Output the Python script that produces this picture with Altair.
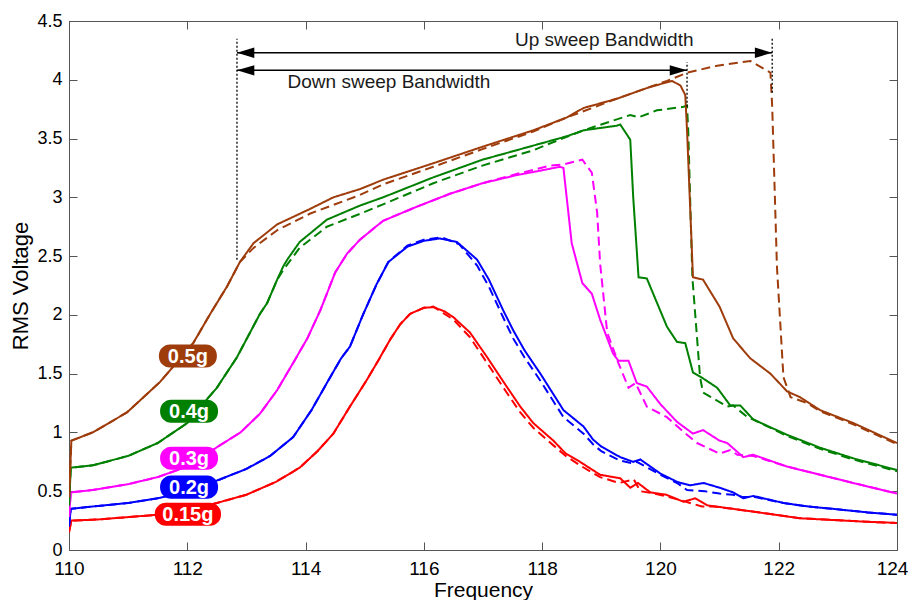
import altair as alt
import pandas as pd

# ---------------- data ----------------
series_names = ["0.15g", "0.2g", "0.3g", "0.4g", "0.5g"]
series_colors = ["#FF0000", "#0000FF", "#FF00FF", "#008000", "#9E3C0C"]

red_up_x = [110.0, 110.04, 110.5, 111.0, 111.5, 112.0, 112.5, 113.0, 113.5, 113.9, 114.2, 114.47, 114.75, 115.04, 115.25, 115.43, 115.6, 115.77, 116.0, 116.16, 116.35, 116.5, 116.78, 117.07, 117.4, 117.63, 117.85, 118.19, 118.4, 118.64, 118.98, 119.32, 119.49, 119.62, 119.83, 120.1, 120.39, 120.59, 120.79, 121.23, 121.8, 122.36, 122.92, 123.5, 124.0]
red_up_y = [0.15, 0.25, 0.26, 0.28, 0.30, 0.34, 0.40, 0.47, 0.58, 0.70, 0.84, 0.99, 1.22, 1.45, 1.63, 1.79, 1.92, 2.01, 2.06, 2.066, 2.03, 1.98, 1.85, 1.64, 1.39, 1.22, 1.08, 0.93, 0.82, 0.75, 0.64, 0.61, 0.53, 0.57, 0.49, 0.47, 0.41, 0.44, 0.38, 0.35, 0.31, 0.27, 0.255, 0.24, 0.23]
red_dn_x = [110.0, 110.04, 110.5, 111.0, 111.5, 112.0, 112.5, 113.0, 113.5, 113.9, 114.2, 114.47, 114.75, 115.04, 115.25, 115.43, 115.6, 115.77, 116.0, 116.16, 116.5, 116.78, 117.07, 117.4, 117.63, 117.85, 118.19, 118.4, 118.64, 118.98, 119.3, 119.55, 119.66, 119.9, 120.3, 120.7, 120.9, 121.23, 121.8, 122.36, 122.92, 123.5, 124.0]
red_dn_y = [0.15, 0.25, 0.26, 0.28, 0.30, 0.34, 0.40, 0.47, 0.58, 0.70, 0.84, 0.99, 1.22, 1.45, 1.63, 1.79, 1.92, 2.01, 2.06, 2.07, 1.96, 1.81, 1.59, 1.34, 1.17, 1.04, 0.89, 0.80, 0.72, 0.62, 0.57, 0.60, 0.50, 0.48, 0.43, 0.37, 0.37, 0.35, 0.31, 0.27, 0.255, 0.24, 0.23]

blue_up_x = [110.0, 110.03, 110.4, 111.0, 111.5, 112.0, 112.55, 113.0, 113.4, 113.79, 114.1, 114.36, 114.6, 114.75, 114.97, 115.2, 115.4, 115.72, 116.0, 116.27, 116.56, 116.9, 117.1, 117.34, 117.51, 117.7, 117.97, 118.36, 118.7, 118.86, 119.0, 119.32, 119.54, 119.66, 120.0, 120.28, 120.5, 120.73, 121.0, 121.23, 121.4, 121.57, 122.08, 122.5, 122.92, 123.5, 124.0]
blue_up_y = [0.20, 0.35, 0.37, 0.40, 0.44, 0.50, 0.60, 0.69, 0.80, 0.96, 1.19, 1.42, 1.63, 1.73, 2.00, 2.26, 2.45, 2.58, 2.63, 2.65, 2.62, 2.47, 2.30, 2.04, 1.87, 1.70, 1.50, 1.19, 1.05, 0.94, 0.88, 0.79, 0.75, 0.77, 0.65, 0.58, 0.55, 0.57, 0.53, 0.49, 0.44, 0.46, 0.40, 0.37, 0.35, 0.32, 0.30]
blue_dn_x = [110.0, 110.03, 110.4, 111.0, 111.5, 112.0, 112.55, 113.0, 113.4, 113.79, 114.1, 114.36, 114.6, 114.75, 114.97, 115.2, 115.4, 115.72, 116.0, 116.3, 116.6, 116.9, 117.1, 117.34, 117.51, 117.7, 117.97, 118.36, 118.7, 118.86, 119.0, 119.32, 119.5, 119.6, 120.0, 120.28, 120.45, 120.75, 121.0, 121.23, 121.4, 121.6, 122.08, 122.5, 122.92, 123.5, 124.0]
blue_dn_y = [0.20, 0.35, 0.37, 0.40, 0.44, 0.50, 0.60, 0.69, 0.80, 0.96, 1.19, 1.42, 1.63, 1.73, 2.00, 2.26, 2.45, 2.59, 2.64, 2.66, 2.60, 2.42, 2.24, 1.98, 1.80, 1.64, 1.44, 1.13, 0.99, 0.90, 0.84, 0.76, 0.74, 0.75, 0.64, 0.57, 0.51, 0.50, 0.48, 0.47, 0.45, 0.45, 0.40, 0.37, 0.35, 0.32, 0.30]

mag_up_x = [110.0, 110.03, 110.4, 111.0, 111.5, 112.0, 112.55, 112.9, 113.23, 113.52, 113.8, 114.03, 114.25, 114.36, 114.5, 114.7, 114.92, 115.31, 115.88, 116.44, 116.99, 117.58, 118.0, 118.3, 118.36, 118.5, 118.68, 118.84, 118.98, 119.2, 119.29, 119.46, 119.6, 119.77, 120.0, 120.28, 120.55, 120.72, 121.0, 121.13, 121.4, 121.57, 122.14, 122.7, 123.26, 124.0]
mag_up_y = [0.28, 0.49, 0.51, 0.56, 0.62, 0.71, 0.89, 1.00, 1.16, 1.36, 1.60, 1.80, 2.04, 2.18, 2.36, 2.52, 2.64, 2.80, 2.92, 3.03, 3.12, 3.19, 3.23, 3.26, 3.25, 2.61, 2.27, 2.18, 1.96, 1.67, 1.61, 1.61, 1.42, 1.39, 1.24, 1.09, 0.99, 1.02, 0.93, 0.91, 0.79, 0.81, 0.71, 0.64, 0.57, 0.48]
mag_dn_x = [110.0, 110.03, 110.4, 111.0, 111.5, 112.0, 112.55, 112.9, 113.23, 113.52, 113.8, 114.03, 114.25, 114.36, 114.5, 114.7, 114.92, 115.31, 115.88, 116.44, 116.99, 117.58, 118.14, 118.36, 118.68, 118.84, 118.93, 118.98, 119.1, 119.29, 119.46, 119.58, 119.77, 120.11, 120.4, 120.62, 121.0, 121.18, 121.3, 121.57, 122.14, 122.7, 123.26, 124.0]
mag_dn_y = [0.28, 0.49, 0.51, 0.56, 0.62, 0.71, 0.89, 1.00, 1.16, 1.36, 1.60, 1.80, 2.04, 2.18, 2.36, 2.52, 2.64, 2.80, 2.92, 3.03, 3.12, 3.20, 3.27, 3.28, 3.32, 3.21, 2.87, 2.44, 1.85, 1.59, 1.38, 1.42, 1.22, 1.13, 1.00, 0.91, 0.82, 0.85, 0.81, 0.80, 0.71, 0.64, 0.57, 0.48]

grn_up_x = [110.0, 110.03, 110.4, 111.0, 111.5, 112.0, 112.33, 112.5, 112.84, 113.23, 113.35, 113.52, 113.62, 113.69, 113.9, 114.36, 114.92, 115.31, 116.16, 116.99, 117.85, 118.42, 118.7, 119.27, 119.32, 119.49, 119.54, 119.63, 119.77, 120.11, 120.28, 120.42, 120.55, 120.72, 120.96, 121.18, 121.35, 121.57, 122.14, 122.7, 123.26, 124.0]
grn_up_y = [0.38, 0.70, 0.72, 0.80, 0.91, 1.08, 1.28, 1.38, 1.64, 2.01, 2.10, 2.30, 2.41, 2.47, 2.62, 2.81, 2.93, 3.00, 3.17, 3.32, 3.44, 3.52, 3.57, 3.61, 3.62, 3.49, 3.00, 2.32, 2.31, 1.90, 1.77, 1.76, 1.51, 1.46, 1.38, 1.23, 1.23, 1.11, 0.98, 0.87, 0.78, 0.68]
grn_dn_x = [110.0, 110.03, 110.4, 111.0, 111.5, 112.0, 112.33, 112.5, 112.84, 113.23, 113.35, 113.52, 113.62, 113.9, 114.36, 114.92, 115.31, 116.16, 116.99, 117.85, 118.14, 118.7, 119.0, 119.49, 119.63, 119.94, 120.39, 120.45, 120.47, 120.54, 120.67, 120.72, 121.13, 121.23, 121.47, 121.57, 122.14, 122.7, 123.26, 124.0]
grn_dn_y = [0.38, 0.70, 0.72, 0.80, 0.91, 1.08, 1.28, 1.38, 1.64, 2.01, 2.10, 2.30, 2.38, 2.57, 2.75, 2.86, 2.94, 3.12, 3.27, 3.40, 3.46, 3.57, 3.62, 3.70, 3.68, 3.74, 3.77, 3.78, 3.57, 2.32, 1.47, 1.34, 1.22, 1.23, 1.13, 1.11, 0.97, 0.86, 0.77, 0.67]

brn_up_x = [110.0, 110.04, 110.4, 110.98, 111.54, 112.1, 112.39, 112.67, 112.89, 113.12, 113.52, 114.07, 114.47, 114.92, 115.31, 116.16, 116.99, 117.85, 118.42, 118.7, 119.27, 119.83, 120.2, 120.34, 120.42, 120.45, 120.55, 120.72, 121.0, 121.23, 121.52, 121.86, 122.14, 122.36, 122.7, 123.26, 124.0]
brn_up_y = [0.45, 0.93, 1.00, 1.17, 1.43, 1.76, 2.01, 2.24, 2.45, 2.61, 2.77, 2.90, 3.00, 3.07, 3.15, 3.29, 3.43, 3.57, 3.68, 3.76, 3.84, 3.94, 3.99, 3.95, 3.87, 3.57, 2.32, 2.30, 2.07, 1.80, 1.63, 1.50, 1.35, 1.30, 1.19, 1.08, 0.91]
brn_dn_x = [110.0, 110.04, 110.4, 110.98, 111.54, 112.1, 112.39, 112.67, 112.89, 113.12, 113.52, 114.07, 114.92, 115.31, 116.16, 116.99, 117.85, 118.42, 119.27, 120.11, 120.45, 120.96, 121.52, 121.86, 121.89, 121.97, 122.08, 122.2, 122.48, 122.7, 123.26, 124.0]
brn_dn_y = [0.45, 0.93, 1.00, 1.17, 1.43, 1.76, 2.01, 2.24, 2.45, 2.57, 2.72, 2.86, 3.02, 3.11, 3.26, 3.41, 3.56, 3.68, 3.84, 3.99, 4.06, 4.12, 4.16, 4.06, 3.77, 2.41, 1.47, 1.30, 1.25, 1.18, 1.07, 0.90]

# curve labels (text, centre x, centre y, half width in x units)
label_text = ["0.5g", "0.4g", "0.3g", "0.2g", "0.15g"]
label_x = [112.01, 112.03, 112.03, 112.03, 112.01]
label_y = [1.65, 1.18, 0.78, 0.535, 0.305]
label_halfw = [0.49, 0.49, 0.49, 0.49, 0.56]
label_halfh = 0.098

# bandwidth annotation
bw_left = 112.84
up_right = 121.89
down_right = 120.45
up_arrow_y = 4.23
down_arrow_y = 4.08

# ---------------- build tables ----------------
rows = []
curves = [
    ("0.15g", red_up_x, red_up_y, red_dn_x, red_dn_y),
    ("0.2g", blue_up_x, blue_up_y, blue_dn_x, blue_dn_y),
    ("0.3g", mag_up_x, mag_up_y, mag_dn_x, mag_dn_y),
    ("0.4g", grn_up_x, grn_up_y, grn_dn_x, grn_dn_y),
    ("0.5g", brn_up_x, brn_up_y, brn_dn_x, brn_dn_y),
]
for name, ux, uy, dx, dy in curves:
    for i, (a, b) in enumerate(zip(ux, uy)):
        rows.append({"x": a, "y": b, "series": name, "sweep": "up", "key": name + "u", "i": i})
    for i, (a, b) in enumerate(zip(dx, dy)):
        rows.append({"x": a, "y": b, "series": name, "sweep": "down", "key": name + "d", "i": i})
df = pd.DataFrame(rows)

xscale = alt.Scale(domain=[110, 124], nice=False, zero=False)
yscale = alt.Scale(domain=[0, 4.5], nice=False, zero=True)
cscale = alt.Scale(domain=series_names, range=series_colors)

FONT = "Liberation Sans"
TICK = "#555555"
xvals = list(range(110, 125, 2))
yvals = [v * 0.5 for v in range(10)]

# frame layer: top / right inward ticks
frame = alt.Chart(pd.DataFrame({"x": [110], "y": [0]})).mark_point(opacity=0).encode(
    x=alt.X("x:Q", scale=xscale, axis=alt.Axis(orient="top", values=xvals,
            labels=False, title=None, domain=False, grid=False, tickSize=8, offset=-8,
            tickColor=TICK, tickWidth=1)),
    y=alt.Y("y:Q", scale=yscale, axis=alt.Axis(orient="right", values=yvals,
            labels=False, title=None, domain=False, grid=False, tickSize=8, offset=-8,
            tickColor=TICK, tickWidth=1)),
)

lines = alt.Chart(df).mark_line(strokeWidth=2, clip=True).encode(
    x=alt.X("x:Q", scale=xscale, axis=alt.Axis(orient="bottom", values=xvals,
            format="~g", title="Frequency", domain=False, grid=False, tickSize=8, offset=-8,
            tickColor=TICK, labelPadding=9, labelFontSize=19, titleFontSize=21,
            labelFlush=False,
            labelOffset=alt.condition("datum.value == 124", alt.value(-5), alt.value(0)),
            titleFontWeight="normal", titlePadding=1, labelColor="#000", titleColor="#000")),
    y=alt.Y("y:Q", scale=yscale, axis=alt.Axis(orient="left", values=yvals,
            format="~g", title="RMS Voltage", domain=False, grid=False, tickSize=8, offset=-8,
            tickColor=TICK, labelPadding=7, labelFontSize=18, titleFontSize=22,
            labelFlush=False,
            titleFontWeight="normal", titlePadding=4, labelColor="#000", titleColor="#000")),
    color=alt.Color("series:N", scale=cscale, legend=None),
    strokeDash=alt.StrokeDash("sweep:N", scale=alt.Scale(domain=["up", "down"], range=[[1, 0], [9, 5]]), legend=None),
    detail="key:N",
    order="i:Q",
)

lab_df = pd.DataFrame({
    "text": label_text, "x": label_x, "y": label_y,
    "x0": [a - w for a, w in zip(label_x, label_halfw)],
    "x1": [a + w for a, w in zip(label_x, label_halfw)],
    "y0": [b - label_halfh for b in label_y],
    "y1": [b + label_halfh for b in label_y],
    "series": ["0.5g", "0.4g", "0.3g", "0.2g", "0.15g"],
})
boxes = alt.Chart(lab_df).mark_rect(cornerRadius=11).encode(
    x=alt.X("x0:Q", scale=xscale, axis=None), x2="x1:Q",
    y=alt.Y("y0:Q", scale=yscale, axis=None), y2="y1:Q",
    color=alt.Color("series:N", scale=cscale, legend=None),
)
btxt = alt.Chart(lab_df).mark_text(color="white", fontWeight="bold", fontSize=20, font=FONT,
                                   align="center", baseline="middle", dy=1).encode(
    x=alt.X("x:Q", scale=xscale, axis=None), y=alt.Y("y:Q", scale=yscale, axis=None), text="text:N")

# arrows
arr_df = pd.DataFrame({"x": [bw_left, bw_left], "x2": [up_right, down_right], "y": [up_arrow_y, down_arrow_y]})
shafts = alt.Chart(arr_df).mark_rule(color="black", strokeWidth=1.5).encode(
    x=alt.X("x:Q", scale=xscale, axis=None), x2="x2:Q", y=alt.Y("y:Q", scale=yscale, axis=None))
lhead = alt.Chart(arr_df).mark_point(shape="M0,0L2,-0.6L2,0.6Z", filled=True, size=300, color="black", opacity=1).encode(
    x=alt.X("x:Q", scale=xscale, axis=None), y=alt.Y("y:Q", scale=yscale, axis=None))
rhead = alt.Chart(arr_df).mark_point(shape="M0,0L-2,-0.6L-2,0.6Z", filled=True, size=300, color="black", opacity=1).encode(
    x=alt.X("x2:Q", scale=xscale, axis=None), y=alt.Y("y:Q", scale=yscale, axis=None))

vl_df = pd.DataFrame({"x": [bw_left, down_right, up_right], "y0": [2.47, 3.77, 3.89], "y1": [4.35, 4.15, 4.35]})
vlines = alt.Chart(vl_df).mark_rule(color="black", strokeWidth=1.3, strokeDash=[2, 2]).encode(
    x=alt.X("x:Q", scale=xscale, axis=None), y=alt.Y("y0:Q", scale=yscale, axis=None), y2="y1:Q")

txt_df = pd.DataFrame({"t": ["Up sweep Bandwidth", "Down sweep Bandwidth"], "x": [119.05, 115.41], "y": [4.34, 3.98]})
atxt = alt.Chart(txt_df).mark_text(fontSize=19, font=FONT, color="#1a1a1a", align="center", baseline="middle").encode(
    x=alt.X("x:Q", scale=xscale, axis=None), y=alt.Y("y:Q", scale=yscale, axis=None), text="t:N")

chart = alt.layer(frame, lines, vlines, shafts, lhead, rhead, atxt, boxes, btxt).resolve_axis(
    x="independent", y="independent"
).properties(
    width=828, height=529,
    autosize=alt.AutoSizeParams(type="none"),
    padding={"left": 61, "top": 13, "right": 11, "bottom": 50},
).configure(font=FONT).configure_view(stroke=TICK, strokeWidth=1)

chart.save("out.html", embed_options={"renderer": "svg", "actions": False})
